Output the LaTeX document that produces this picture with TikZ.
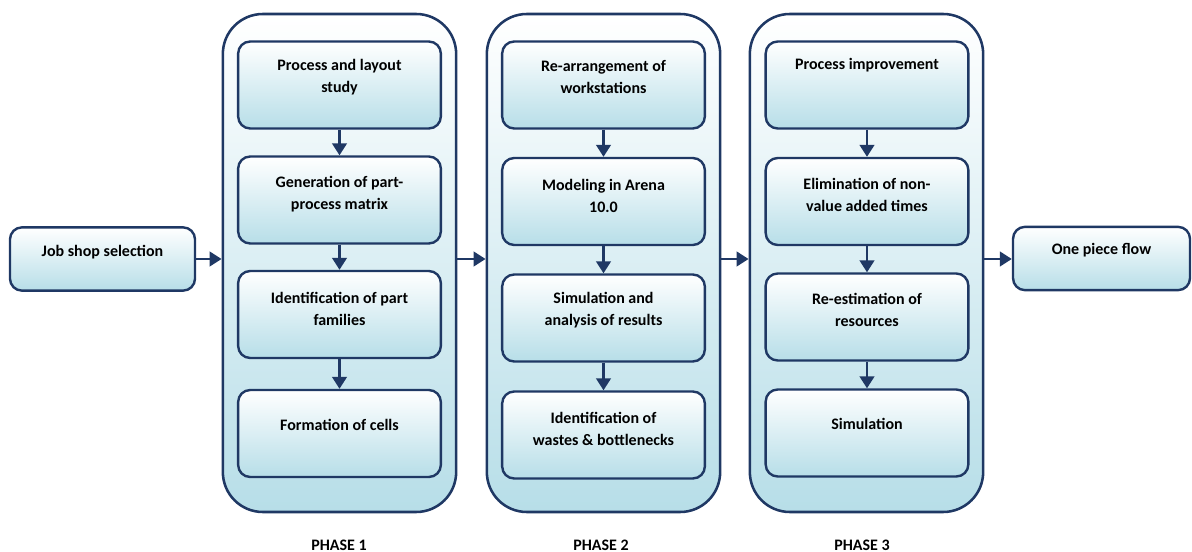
\documentclass[tikz,border=0pt]{standalone}
\usepackage{fontspec}
\setmainfont{Carlito}
\usetikzlibrary{arrows.meta}
\definecolor{navy}{HTML}{1F3864}
\definecolor{paleblue}{HTML}{B7DEE8}
\begin{document}
\begin{tikzpicture}[x=0.75pt,y=-0.75pt,
    phase/.style={draw=navy,line width=1.9pt,rounded corners=30pt,top color=white,bottom color=paleblue,minimum width=175pt,minimum height=373.5pt},
    stepbox/.style={draw=navy,line width=1.8pt,rounded corners=9pt,top color=white,bottom color=paleblue,minimum width=152pt,minimum height=65.25pt},
    endbox/.style={stepbox,minimum height=47.5pt},
    txt/.style={font=\fontsize{12}{16.5}\selectfont\bfseries,align=center},
    flow/.style={navy,line width=1.8pt,-{Triangle[length=9pt,width=11pt]}}]
  \useasboundingbox (0,0) rectangle (1192,552);

  \node[endbox,minimum width=138.75pt] (job) at (102.5,259) {};
  \node[txt] (jobt) at (102.5,252) {Job shop selection};

  \node[phase] (ph1) at (339.5,263) {};
  \node[phase] (ph2) at (603.5,263) {};
  \node[phase] (ph3) at (866.5,263) {};

  \node[endbox,minimum width=132.75pt] (one) at (1101.5,258.5) {};
  \node[txt] (onet) at (1101.5,250) {One piece flow};

  % phase 1
  \node[stepbox] (p1a) at (339.5,85) {};
  \node[stepbox] (p1b) at (339.5,200) {};
  \node[stepbox] (p1c) at (339.5,314.5) {};
  \node[stepbox] (p1d) at (339.5,433.5) {};
  \node[txt] (p1at) at (339.5,77) {Process and layout\\study};
  \node[txt] (p1bt) at (339.5,194.5) {Generation of part-\\process matrix};
  \node[txt] (p1ct) at (339.5,308.5) {Identification of part\\families};
  \node[txt] (p1dt) at (339.5,425) {Formation of cells};

  % phase 2
  \node[stepbox] (p2a) at (603.5,85) {};
  \node[stepbox] (p2b) at (603.5,201.5) {};
  \node[stepbox] (p2c) at (603.5,318) {};
  \node[stepbox] (p2d) at (603.5,435) {};
  \node[txt] (p2at) at (603.5,77) {Re-arrangement of\\workstations};
  \node[txt] (p2bt) at (603.5,196) {Modeling in Arena\\10.0};
  \node[txt] (p2ct) at (603.5,310.5) {Simulation and\\analysis of results};
  \node[txt] (p2dt) at (603.5,428.5) {Identification of\\wastes \& bottlenecks};

  % phase 3
  \node[stepbox] (p3a) at (867,85) {};
  \node[stepbox] (p3b) at (867,201.5) {};
  \node[stepbox] (p3c) at (867,317) {};
  \node[stepbox] (p3d) at (867,433) {};
  \node[txt] (p3at) at (867,65) {Process improvement};
  \node[txt] (p3bt) at (867,195) {Elimination of non-\\value added times};
  \node[txt] (p3ct) at (867,310) {Re-estimation of\\resources};
  \node[txt] (p3dt) at (867,424) {Simulation};

  \node[txt] (l1) at (339,545) {PHASE 1};
  \node[txt] (l2) at (601,545) {PHASE 2};
  \node[txt] (l3) at (862,545) {PHASE 3};

  \draw[flow] (job.east) -- (job.east -| ph1.west);
  \draw[flow] (ph1.east |- job.east) -- (ph2.west |- job.east);
  \draw[flow] (ph2.east |- job.east) -- (ph3.west |- job.east);
  \draw[flow] (ph3.east |- job.east) -- (one.west |- job.east);
  \foreach \p in {1,2,3}{
    \draw[flow] (p\p a) -- (p\p b);
    \draw[flow] (p\p b) -- (p\p c);
    \draw[flow] (p\p c) -- (p\p d);
  }
\end{tikzpicture}
\end{document}
